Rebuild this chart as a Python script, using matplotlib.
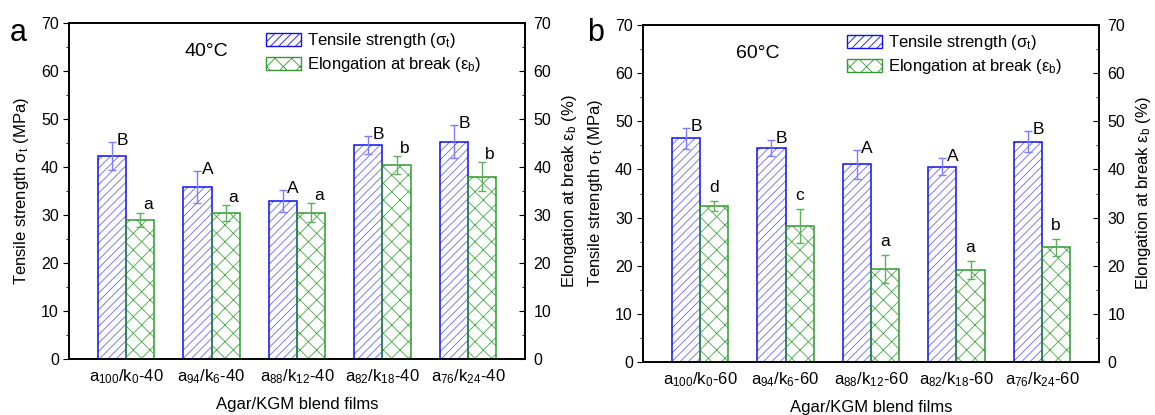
import matplotlib
matplotlib.use("Agg")
import matplotlib.pyplot as plt
import numpy as np
from matplotlib.patches import Patch

plt.rcParams['font.family'] = ['Liberation Sans', 'DejaVu Sans']
plt.rcParams['mathtext.default'] = 'regular'
plt.rcParams['hatch.linewidth'] = 0.6

# data
labels_40 = [r"a$_{100}$/k$_0$-40", r"a$_{94}$/k$_6$-40", r"a$_{88}$/k$_{12}$-40",
             r"a$_{82}$/k$_{18}$-40", r"a$_{76}$/k$_{24}$-40"]
labels_60 = [r"a$_{100}$/k$_0$-60", r"a$_{94}$/k$_6$-60", r"a$_{88}$/k$_{12}$-60",
             r"a$_{82}$/k$_{18}$-60", r"a$_{76}$/k$_{24}$-60"]

ts_40 = [42.3, 35.8, 32.9, 44.6, 45.3]
ts_40_err = [3.0, 3.3, 2.3, 1.8, 3.4]
eb_40 = [29.0, 30.4, 30.5, 40.4, 38.0]
eb_40_err = [1.5, 1.7, 2.0, 1.9, 3.0]
ts_40_letters = ["B", "A", "A", "B", "B"]
eb_40_letters = ["a", "a", "a", "b", "b"]

ts_60 = [46.5, 44.5, 41.1, 40.6, 45.8]
ts_60_err = [2.2, 1.7, 3.0, 1.8, 2.2]
eb_60 = [32.4, 28.3, 19.3, 19.1, 23.8]
eb_60_err = [1.1, 3.5, 2.9, 1.8, 1.8]
ts_60_letters = ["B", "B", "A", "A", "B"]
eb_60_letters = ["d", "c", "a", "a", "b"]

BLUE = '#1010ee'
BLUE_H = '#6a6af5'
BLUE_E = '#7c7cff'
GREEN = '#2f9a2f'
GREEN_H = '#45a845'
GREEN_E = '#5cb05c'

fig = plt.figure(figsize=(11.55, 4.15), dpi=100)


def panel(rect, labels, ts, ts_err, eb, eb_err, ts_let, eb_let, temp, temp_x, tag, tag_x,
          leg_x, gdx, gdy):
    ax = fig.add_axes(rect)
    x = np.arange(1, len(labels) + 1)
    w = 0.33
    xb = x - w / 2
    xg = x + w / 2
    ax.bar(xb, ts, w, color='white', edgecolor=BLUE_H, hatch='////', linewidth=0, zorder=2)
    ax.bar(xb, ts, w, fill=False, edgecolor=BLUE, linewidth=1.1, zorder=3)
    ax.bar(xg, eb, w, color='white', edgecolor=GREEN_H, hatch='xx', linewidth=0, zorder=2)
    ax.bar(xg, eb, w, fill=False, edgecolor=GREEN, linewidth=1.1, zorder=3)
    ax.errorbar(xb, ts, yerr=ts_err, fmt='none', ecolor=BLUE_E, elinewidth=1, capsize=3, capthick=1, zorder=4)
    ax.errorbar(xg, eb, yerr=eb_err, fmt='none', ecolor=GREEN_E, elinewidth=1, capsize=3, capthick=1, zorder=4)
    for i in range(len(labels)):
        ax.text(xb[i] + 0.05, ts[i] + ts_err[i] + 0.3, ts_let[i], ha='left', va='center', fontsize=12.5)
        ax.text(xg[i] + gdx, eb[i] + eb_err[i] + gdy, eb_let[i], ha='center', va='center', fontsize=12.5)
    ax.set_xlim(0.333, 5.667)
    ax.set_ylim(0, 70)
    ax.set_yticks(np.arange(0, 71, 10))
    ax.set_yticks(np.arange(0, 71, 5), minor=True)
    ax.set_xticks(x)
    ax.set_xticklabels(labels, fontsize=12)
    ax.tick_params(axis='x', length=0, pad=6)
    ax.tick_params(axis='y', which='major', direction='out', length=4.3, labelsize=11.5, pad=3)
    ax.tick_params(axis='y', which='minor', direction='out', length=2.5)
    ax.set_ylabel(r"Tensile strength σ$_t$ (MPa)", fontsize=12, labelpad=7)
    ax.set_xlabel("Agar/KGM blend films", fontsize=12, labelpad=8)
    ax2 = ax.twinx()
    ax2.set_ylim(0, 70)
    ax2.set_yticks(np.arange(0, 71, 10))
    ax2.set_yticks(np.arange(0, 71, 5), minor=True)
    ax2.tick_params(axis='y', which='major', direction='in', length=4.3, labelsize=11.5, pad=6)
    ax2.tick_params(axis='y', which='minor', direction='in', length=2.5)
    ax2.set_ylabel(r"Elongation at break ε$_b$ (%)", fontsize=12, labelpad=6)
    for a in (ax, ax2):
        for s in a.spines.values():
            s.set_linewidth(1.2)
    handles = [Patch(facecolor='white', edgecolor=BLUE, hatch='////', linewidth=1.0),
               Patch(facecolor='white', edgecolor=GREEN, hatch='xx', linewidth=1.0)]
    ax.legend(handles, [r"Tensile strength (σ$_t$)", r"Elongation at break (ε$_b$)"],
              loc='upper left', bbox_to_anchor=(leg_x, 0.975), frameon=False, fontsize=12,
              borderaxespad=0, borderpad=0,
              handlelength=2.1, handleheight=0.78, handletextpad=0.36, labelspacing=0.3)
    ax.text(temp_x, 64.0, temp, ha='center', va='center', fontsize=14)
    fig.text(tag_x, 1 - 33 / 415, tag, fontsize=22, ha='center', va='center')
    return ax


panel([69 / 1155, 1 - 359 / 415, 456 / 1155, 336 / 415], labels_40, ts_40, ts_40_err,
      eb_40, eb_40_err, ts_40_letters, eb_40_letters, "40°C", 1.94, "a", 18 / 1155, 0.432, 0.09, 1.6)
panel([643 / 1155, 1 - 362 / 415, 456 / 1155, 337 / 415], labels_60, ts_60, ts_60_err,
      eb_60, eb_60_err, ts_60_letters, eb_60_letters, "60°C", 1.68, "b", 596 / 1155, 0.447, 0.0, 2.8)

fig.savefig("out.png", dpi=100)
